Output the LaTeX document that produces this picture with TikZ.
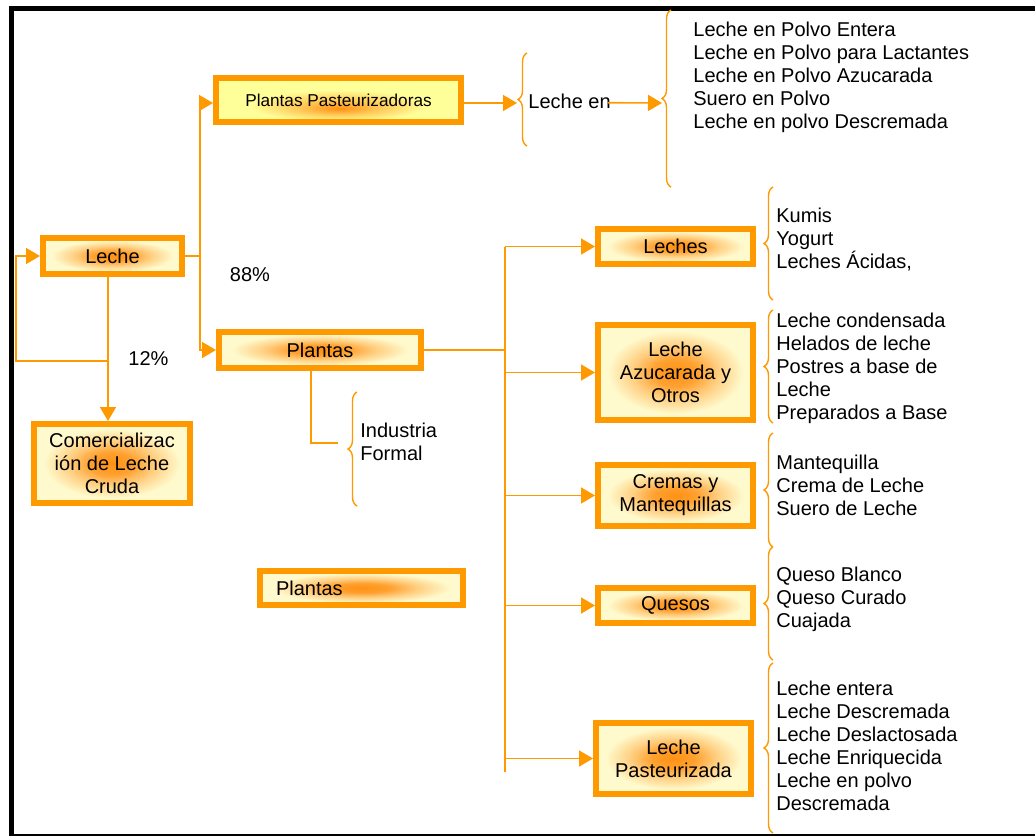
\documentclass[tikz,border=0pt]{standalone}
\usepackage{fontspec}
\setmainfont{Liberation Sans}
\usetikzlibrary{arrows.meta,decorations.pathreplacing}
\definecolor{frame}{RGB}{255,153,0}
\definecolor{cream}{RGB}{255,250,205}
\definecolor{glowc}{RGB}{255,145,20}
\definecolor{ppyellow}{RGB}{255,255,153}
\pgfdeclareradialshading{glow}{\pgfpoint{0bp}{0bp}}{color(0bp)=(glowc); color(7bp)=(glowc!85!cream); color(14bp)=(glowc!40!cream); color(22bp)=(cream); color(50bp)=(cream)}
\pgfdeclareradialshading{ppglow}{\pgfpoint{0bp}{-10bp}}{color(0bp)=(glowc); color(8bp)=(glowc!50!ppyellow); color(18bp)=(ppyellow); color(50bp)=(ppyellow)}

\begin{document}
\begin{tikzpicture}[
    x=0.5pt, y=-0.5pt,
    font=\fontsize{10}{11.5}\selectfont,
    box/.style={draw=frame, line width=3pt, shading=glow, inner sep=0pt, align=center},
    link/.style={draw=frame, line width=0.8pt},
    arr/.style={link, -{Triangle[length=7pt, width=8pt]}},
    brc/.style={draw=frame, line width=0.7pt, decorate, decoration={brace, amplitude=4.5pt}},
    lst/.style={anchor=north west, inner sep=0pt, align=left}
  ]
  \useasboundingbox (0,0) rectangle (1035,836);
  \draw[line width=2.5pt] (11,836.5) rectangle (1045,8.5);

  % boxes
  \node[box, shading=ppglow, font=\fontsize{8.6}{10}\selectfont, minimum width=122.5pt, minimum height=22pt] (pp) at (338.5,100) {Plantas Pasteurizadoras};
  \node[box, minimum width=69.5pt, minimum height=18pt] (leche) at (112.5,256) {Leche};
  \node[box, minimum width=78pt, minimum height=39.5pt] (com) at (112,463.5) {Comercializac\\ión de Leche\\Cruda};
  \node[box, minimum width=101pt, minimum height=18pt] (pl) at (320,350) {Plantas};
  \node[box, text width=85.5pt, align=left, inner xsep=8pt, minimum height=17pt] (pb) at (361.5,588) {Plantas};
  \node[box, minimum width=77.5pt, minimum height=17.5pt] (leches) at (675.5,246.5) {Leches};
  \node[box, minimum width=77.5pt, minimum height=47.5pt] (azu) at (675.5,372.5) {Leche\\Azucarada y\\Otros};
  \node[box, minimum width=77.5pt, minimum height=30.5pt] (cre) at (675.5,495.5) {Cremas y\\Mantequillas};
  \node[box, minimum width=77.5pt, minimum height=17.5pt] (que) at (675.5,605.5) {Quesos};
  \node[box, minimum width=77.5pt, minimum height=35.5pt] (pas) at (673.5,758.5) {Leche\\Pasteurizada};

  % labels
  \node (p88) at (250,275) {88\%};
  \node (p12) at (148.5,359) {12\%};
  \node[anchor=base west, inner sep=0pt] (lechen) at (528,108) {Leche en};
  \node[lst] (indf) at (360,423) {Industria\\Formal};
  \node[lst] (polvo) at (693,22) {Leche en Polvo Entera\\Leche en Polvo para Lactantes\\Leche en Polvo Azucarada\\Suero en Polvo\\Leche en polvo Descremada};
  \node[lst] (acidas) at (776,208) {Kumis\\Yogurt\\Leches Ácidas,};
  \node[lst] (dulces) at (776,313) {Leche condensada\\Helados de leche\\Postres a base de\\Leche\\Preparados a Base};
  \node[lst] (grasas) at (776,455) {Mantequilla\\Crema de Leche\\Suero de Leche};
  \node[lst] (quesos) at (776,567) {Queso Blanco\\Queso Curado\\Cuajada};
  \node[lst] (fluidas) at (776,681) {Leche entera\\Leche Descremada\\Leche Deslactosada\\Leche Enriquecida\\Leche en polvo\\Descremada};

  % braces
  \draw[brc] (527,146) -- (527,53);
  \draw[brc] (671,187) -- (671,10);
  \draw[brc] (357,506) -- (357,392);
  \draw[brc] (773,300) -- (773,187);
  \draw[brc] (773,423) -- (773,310);
  \draw[brc] (773,547) -- (773,433);
  \draw[brc] (773,660) -- (773,547);
  \draw[brc] (773,833) -- (773,663);

  \coordinate (split) at (200,256);
  \coordinate (drop) at (108,361);
  \coordinate (loop) at (16,361);
  \coordinate (b0) at (517,103);
  \coordinate (b1) at (662,103);
  \coordinate (bus) at (505,350);
  \coordinate (busend) at (505,772);
  \coordinate (indend) at (338,443);

  % connectors
  \draw[link] (leche.east) -- (split);
  \draw[arr] (split) |- (pp.west |- b0);
  \draw[arr] (split) |- (pl.west);
  \draw[arr] (leche.south -| drop) -- (com.north -| drop);
  \draw[arr] (drop) -- (loop) |- (leche.west);
  \draw[arr] (pp.east |- b0) -- (b0);
  \draw[arr] ([xshift=-1.5pt]lechen.mid east) -- (b1);
  \draw[link] ([xshift=-4.5pt]pl.south) |- (indend);
  \draw[link] (pl.east) -- (bus);
  \draw[link] (bus |- leches.west) -- (busend);
  \foreach \n in {leches,azu,cre,que,pas}
    \draw[arr] (bus |- \n.west) -- (\n.west);
\end{tikzpicture}
\end{document}
